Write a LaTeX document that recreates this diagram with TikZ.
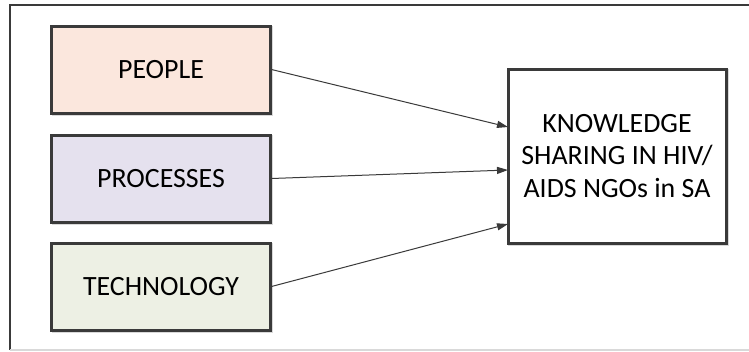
\documentclass[tikz,border=0pt]{standalone}
\usepackage{fontspec}
\setmainfont{Carlito}
\usetikzlibrary{shadows,arrows.meta}
\definecolor{edge}{HTML}{3A3A3A}
\definecolor{peoplefill}{HTML}{FBE7DD}
\definecolor{procfill}{HTML}{E5E1EE}
\definecolor{techfill}{HTML}{EDF0E4}
\tikzset{
  box/.style={draw=edge, line width=3bp, minimum width=218bp, minimum height=87bp,
    inner sep=0pt, font=\fontsize{28}{33}\selectfont, align=center,
    copy shadow={shadow xshift=1.5bp, shadow yshift=-1.5bp, fill=black!15, draw=black!15}},
  link/.style={draw=edge, line width=1bp, -{Triangle[length=11bp,width=7bp]}}
}
\begin{document}
\begin{tikzpicture}[x=1bp,y=-1bp]
\useasboundingbox (0,0) rectangle (749,351);
\fill[white] (0,0) rectangle (749,351);
% outer frame
\draw[edge, line width=2.2bp] (10,350) -- (10,5) -- (749,5);
\draw[black!15, line width=1.5bp] (10,350) -- (749,350);
% nodes
\node[box, fill=peoplefill] (p) at (161,69.5) {PEOPLE};
\node[box, fill=procfill] (r) at (161,178.5) {PROCESSES};
\node[box, fill=techfill] (t) at (161,286.5) {TECHNOLOGY};
\node[box, fill=white, minimum width=218bp, minimum height=174bp] (k) at (617,156) {KNOWLEDGE\\SHARING IN HIV/\\AIDS NGOs in SA};
% arrow targets on the left side of k
\coordinate (e1) at (508,127);
\coordinate (e2) at (508,170);
\coordinate (e3) at (508,224);
\draw[link] (p.east) -- (e1);
\draw[link] (r.east) -- (e2);
\draw[link] (t.east) -- (e3);
\end{tikzpicture}
\end{document}
